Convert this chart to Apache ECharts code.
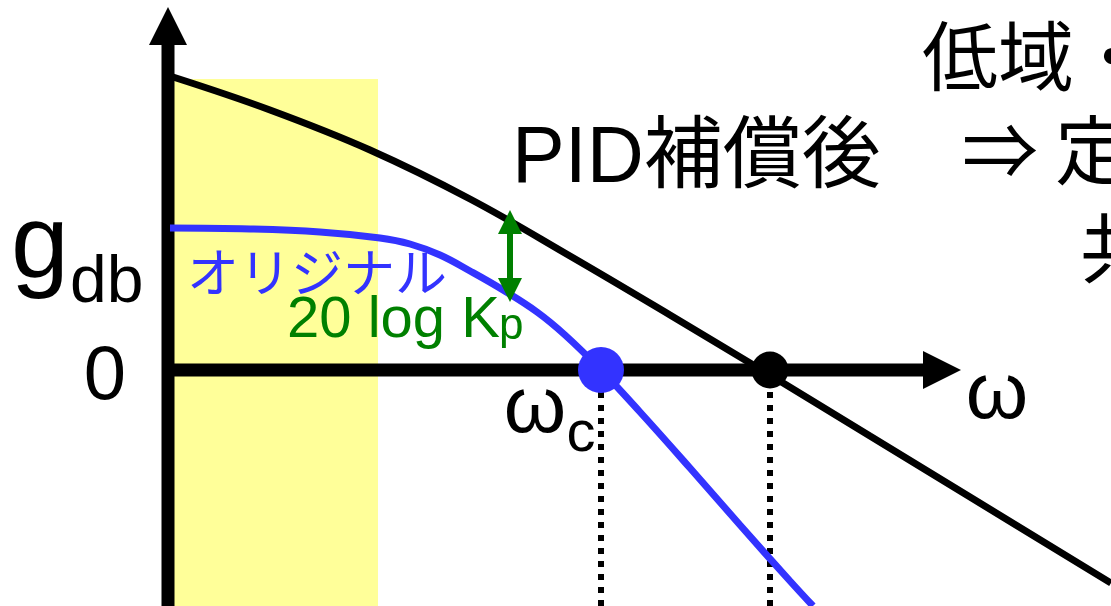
<!DOCTYPE html>
<html>
<head>
<meta charset="utf-8">
<script src="https://cdn.jsdelivr.net/npm/echarts@6/dist/echarts.min.js"></script>
<style>
html,body{margin:0;padding:0;background:#fff;}
#chart{width:1111px;height:606px;}
</style>
</head>
<body>
<div id="chart"></div>
<script>
// 図の座標: x = ω方向 (原点 = 縦軸), y = g_db (0 = 横軸)
var compensated = [[5,293],[102,260],[202,220],[302,171],[402,114],[502,55],[602,-5],[702,-66],[802,-127],[943,-213]];
var original = [[2,142],[82,141],[152,138],[212,132],[242,126],[272,115],[302,99],[335,80],[369,58],[397,35],[433,0],[472,-42],[522,-98],[572,-155],[622,-211],[645,-236]];
var crossOriginal = [[433,0]];      // ω_c
var crossCompensated = [[602,0]];
var dropOriginal = [[433,-22],[433,-240]];
var dropCompensated = [[602,-22],[602,-240]];
var lowBand = [0,210,291];          // x0, x1, 上端
var axesArrows = [[0,-240,0,363,0],[-6,0,793,0,0]];
var gainArrow = [[342,160,342,68,1]];

var chart = echarts.init(document.getElementById('chart'));

function arrowSeries(data, color, width, headLen, headHalf, z){
	return {
		type:'custom', data:data, z:z, silent:true, clip:false,
		encode:{x:[0,2], y:[1,3]},
		renderItem:function(params, api){
			var a = api.coord([api.value(0), api.value(1)]),
				b = api.coord([api.value(2), api.value(3)]),
				both = api.value(4);
			var dx = b[0]-a[0], dy = b[1]-a[1], len = Math.sqrt(dx*dx+dy*dy);
			dx/=len; dy/=len;
			var nx = -dy, ny = dx;
			var s = both ? [a[0]+dx*headLen*0.9, a[1]+dy*headLen*0.9] : a;
			var e = [b[0]-dx*headLen*0.9, b[1]-dy*headLen*0.9];
			var kids = [{type:'line', shape:{x1:s[0],y1:s[1],x2:e[0],y2:e[1]}, style:{stroke:color, lineWidth:width}}];
			function head(p, sx, sy){
				var bx = p[0]-sx*headLen, by = p[1]-sy*headLen;
				kids.push({type:'polygon', shape:{points:[p,[bx+nx*headHalf,by+ny*headHalf],[bx-nx*headHalf,by-ny*headHalf]]}, style:{fill:color}});
			}
			head(b, dx, dy);
			if(both) head(a, -dx, -dy);
			return {type:'group', children:kids};
		}
	};
}

var latin = "'Liberation Sans', 'Noto Sans CJK JP'";
var cjk = "'Noto Sans CJK JP'";
function txt(s, x, y, size, fam, color, align){
	return {type:'text', x:x, y:y, z:20, silent:true,
		style:{text:s, font:size+'px '+fam, fill:color||'#000', align:align||'left', verticalAlign:'middle'}};
}

var option = {
	animation:false,
	grid:{left:0, right:0, top:0, bottom:0},
	xAxis:{type:'value', min:-168, max:943, show:false},
	yAxis:{type:'value', min:-236, max:370, show:false},
	series:[
		{
			type:'line', data:[], z:1, silent:true,
			markArea:{silent:true, itemStyle:{color:'#ffff99'},
				data:[[{coord:[lowBand[0], lowBand[2]]},{coord:[lowBand[1], -236]}]]}
		},
		arrowSeries(axesArrows, '#000', 13, 38, 19, 2),
		{type:'line', data:dropOriginal, z:3, symbol:'none', silent:true, lineStyle:{color:'#000', width:6, type:[6,7]}},
		{type:'line', data:dropCompensated, z:3, symbol:'none', silent:true, lineStyle:{color:'#000', width:6, type:[6,7]}},
		{type:'line', data:compensated, z:4, symbol:'none', smooth:0.4, silent:true, lineStyle:{color:'#000', width:7}},
		{type:'line', data:original, z:4, symbol:'none', smooth:0.4, silent:true, lineStyle:{color:'#3333ff', width:7}},
		{type:'scatter', data:crossOriginal, z:5, symbolSize:46, silent:true, itemStyle:{color:'#3333ff', opacity:1}},
		{type:'scatter', data:crossCompensated, z:5, symbolSize:37, silent:true, itemStyle:{color:'#000', opacity:1}},
		arrowSeries(gainArrow, '#008000', 6, 24, 12, 6)
	],
	graphic:[
		txt('低域・', 922, 56, 76, cjk),
		txt('⇒ 定', 962, 150, 76, cjk),
		txt('共', 1080, 248, 76, cjk),
		txt('PID補償後', 512, 160, 79, latin),
		txt('g', 11, 248, 104, latin),
		txt('db', 70, 284, 66, latin),
		txt('0', 105, 378, 76, latin, '#000', 'center'),
		txt('ω', 997, 396, 80, latin, '#000', 'center'),
		txt('ω', 535, 410, 80, latin, '#000', 'center'),
		txt('c', 581, 435, 58, latin, '#000', 'center'),
		txt('オリジナル', 187, 272, 52, cjk, '#3333ff'),
		txt('20 log K', 287, 321, 58, latin, '#008000'),
		txt('p', 499, 327, 44, latin, '#008000')
	]
};
chart.setOption(option);
</script>
</body>
</html>
